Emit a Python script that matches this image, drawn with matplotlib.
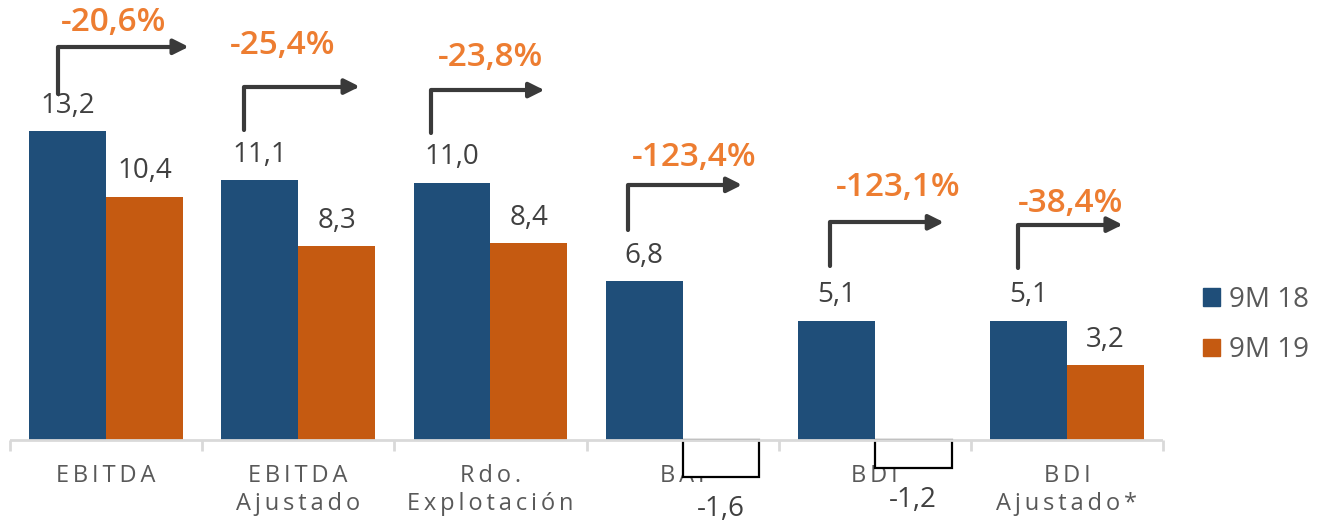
import numpy as np
import matplotlib.pyplot as plt
from matplotlib.patches import Patch

plt.rcParams['font.family'] = ['Open Sans', 'DejaVu Sans']

# datos
categorias = ['EBITDA', 'EBITDA\nAjustado', 'Rdo.\nExplotación', 'BAI', 'BDI', 'BDI\nAjustado*']
v18 = [13.2, 11.1, 11.0, 6.8, 5.1, 5.1]
v19 = [10.4, 8.3, 8.4, -1.6, -1.2, 3.2]
variacion = ['-20,6%', '-25,4%', '-23,8%', '-123,4%', '-123,1%', '-38,4%']
series = ['9M 18', '9M 19']

# posicion de las flechas (desplazamiento respecto al centro de la categoria)
flecha_x0 = [-0.25, -0.28, -0.31, -0.285, -0.235, -0.255]
flecha_x1 = [0.43, 0.32, 0.28, 0.31, 0.36, 0.29]
flecha_y0 = [14.8, 13.25, 13.1, 8.95, 7.45, 7.35]
flecha_y1 = [16.8, 15.1, 14.95, 10.9, 9.3, 9.2]
texto_dx = [0.04, -0.08, 0.0, 0.06, 0.12, 0.02]
texto_y = [17.85, 16.85, 16.35, 12.05, 10.8, 10.1]

azul = '#1F4E79'
naranja = '#C55A11'
naranja_txt = '#ED7D31'
gris_txt = '#404040'
gris_eje = '#D9D9D9'

fig = plt.figure(figsize=(13.19, 5.23), dpi=100)
ax = fig.add_axes([10 / 1319, 0, 1153 / 1319, 1])

x = np.arange(len(categorias))
w = 0.4

ax.bar(x - w / 2, v18, w, color=azul, zorder=2)
col19 = [naranja if v >= 0 else 'white' for v in v19]
edge19 = [naranja if v >= 0 else 'black' for v in v19]
lw19 = [0 if v >= 0 else 1.6 for v in v19]
ax.bar(x + w / 2, v19, w, color=col19, edgecolor=edge19, linewidth=lw19, zorder=2)

# etiquetas de valores
for i in range(len(x)):
    ax.annotate(f'{v18[i]:.1f}'.replace('.', ','), (x[i] - w / 2, v18[i]),
                xytext=(0, 8), textcoords='offset points', ha='center', va='bottom',
                fontsize=20, color=gris_txt)
    if v19[i] >= 0:
        ax.annotate(f'{v19[i]:.1f}'.replace('.', ','), (x[i] + w / 2, v19[i]),
                    xytext=(0, 8), textcoords='offset points', ha='center', va='bottom',
                    fontsize=20, color=gris_txt)
    else:
        ax.annotate(f'{v19[i]:.1f}'.replace('.', ','), (x[i] + w / 2, v19[i]),
                    xytext=(0, -13), textcoords='offset points', ha='center', va='top',
                    fontsize=20, color=gris_txt)

# flechas con la variacion
for i in range(len(x)):
    ax.annotate('', xy=(x[i] + flecha_x1[i], flecha_y1[i]),
                xytext=(x[i] + flecha_x0[i], flecha_y0[i]),
                arrowprops=dict(arrowstyle='-|>,head_length=0.9,head_width=0.45',
                                connectionstyle='angle,angleA=90,angleB=0,rad=0',
                                color='#3A3A3A', lw=3, shrinkA=0, shrinkB=0),
                zorder=3)
    ax.text(x[i] + texto_dx[i], texto_y[i], variacion[i], ha='center', va='center',
            fontsize=24, fontweight='semibold', color=naranja_txt)

# linea base
ax.axhline(0, color=gris_eje, lw=2, zorder=4)

def espaciar(s):
    return '\n'.join('\u2009'.join(linea) for linea in s.split('\n'))

ax.set_xlim(-0.5, len(x) - 0.5)
ax.set_ylim(-3.55, 18.8)
for s in ['top', 'right', 'left', 'bottom']:
    ax.spines[s].set_visible(False)
ax.spines['bottom'].set_position(('data', 0))
ax.tick_params(axis='x', which='major', length=0, pad=17, labelsize=17, labelcolor='#595959')
ax.tick_params(axis='x', which='minor', length=8, width=2, color=gris_eje)
ax.set_xticks(x)
ax.set_xticklabels([espaciar(c) for c in categorias], linespacing=1.25)
ax.set_xticks(np.arange(len(x) + 1) - 0.5, minor=True)
ax.set_yticks([])
ax.patch.set_alpha(0)

handles = [Patch(color=azul), Patch(color=naranja)]
fig.legend(handles, series, loc='center left', bbox_to_anchor=(1203 / 1319, 1 - 325 / 523),
           frameon=False, fontsize=20, labelcolor='#595959', handlelength=0.6,
           handleheight=0.6, handletextpad=0.35, labelspacing=0.8, borderaxespad=0,
           borderpad=0)

fig.savefig('out.png', dpi=100)
